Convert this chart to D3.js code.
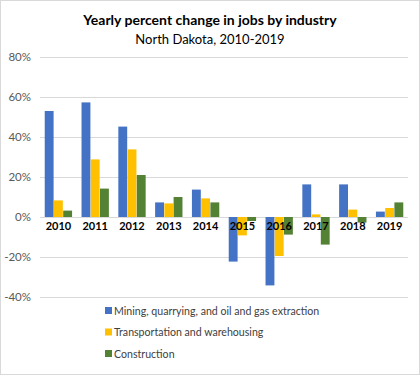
<!DOCTYPE html>
<html>
<head>
<meta charset="utf-8">
<script src="https://cdn.jsdelivr.net/npm/d3@7"></script>
<style>
  body { margin: 0; background: #fff; }
  svg { display: block; font-family: Lato, "Open Sans", sans-serif; }
</style>
</head>
<body>
<div id="chart"></div>
<script>
const years = ['2010', '2011', '2012', '2013', '2014', '2015', '2016', '2017', '2018', '2019'];
const seriesNames = ['Mining, quarrying, and oil and gas extraction', 'Transportation and warehousing', 'Construction'];
const mining = [53, 57.3, 45.2, 7.3, 13.7, -22.3, -34.2, 16.3, 16.3, 2.7];
const transport = [8.3, 28.8, 33.8, 6.8, 9.3, -9.2, -19.5, 1.3, 3.7, 4.5];
const construction = [3.2, 14.2, 21, 10, 7.3, -2, -8.8, -13.8, -2.8, 7.3];
const yTicks = [-40, -20, 0, 20, 40, 60, 80];
const colors = ['#4472C4', '#FFC000', '#548235'];

const width = 420, height = 375;
const svg = d3.select('#chart').append('svg').attr('width', width).attr('height', height);

svg.append('rect').attr('x', 0.5).attr('y', 0.5).attr('width', width - 1).attr('height', height - 1)
  .attr('fill', '#fff').attr('stroke', '#d9d9d9');

svg.append('text').attr('x', 210).attr('y', 25).attr('text-anchor', 'middle')
  .attr('font-size', 14).attr('font-weight', 'bold').attr('fill', '#000')
  .text('Yearly percent change in jobs by industry');
svg.append('text').attr('x', 210).attr('y', 44).attr('text-anchor', 'middle')
  .attr('font-size', 13).attr('fill', '#000')
  .text('North Dakota, 2010-2019');

const x = d3.scaleBand().domain(years).range([40, 408]).paddingInner(0.237).paddingOuter(0.1185);
const x1 = d3.scaleBand().domain(d3.range(3)).range([0, x.bandwidth()]).padding(0.04);
const y = d3.scaleLinear().domain([-40, 80]).range([297, 57]);

const grid = svg.append('g');
grid.selectAll('line').data(yTicks).join('line')
  .attr('x1', 40).attr('x2', 408)
  .attr('y1', d => Math.round(y(d)) + 0.5).attr('y2', d => Math.round(y(d)) + 0.5)
  .attr('stroke', '#d9d9d9').attr('stroke-width', 1);

const yAxis = d3.axisLeft(y).tickValues(yTicks).tickFormat(d => d + '%').tickSize(0).tickPadding(0);
svg.append('g').attr('transform', 'translate(31,0)').call(yAxis)
  .call(g => g.select('.domain').remove())
  .call(g => g.selectAll('text').attr('font-size', 11.5).attr('fill', '#595959')
    .attr('font-family', 'Lato, "Open Sans", sans-serif'));

const data = years.map((yr, i) => ({ year: yr, values: [mining[i], transport[i], construction[i]] }));

const groups = svg.append('g').selectAll('g').data(data).join('g')
  .attr('transform', d => `translate(${x(d.year)},0)`);
groups.selectAll('rect').data(d => d.values.map((v, k) => ({ v, k }))).join('rect')
  .attr('x', d => x1(d.k))
  .attr('width', x1.bandwidth())
  .attr('y', d => y(Math.max(0, d.v)))
  .attr('height', d => Math.abs(y(d.v) - y(0)))
  .attr('fill', d => colors[d.k]);

const xAxis = d3.axisBottom(x).tickSize(0).tickPadding(0);
svg.append('g').attr('transform', `translate(0,${y(0) + 5})`).call(xAxis)
  .call(g => g.select('.domain').remove())
  .call(g => g.selectAll('text').attr('font-size', 11).attr('font-weight', 'bold').attr('fill', '#000')
    .attr('font-family', 'Lato, "Open Sans", sans-serif'));

const legend = svg.append('g').selectAll('g').data(seriesNames).join('g')
  .attr('transform', (d, i) => `translate(105,${311 + i * 21.5})`);
legend.append('rect').attr('x', 0).attr('y', -4).attr('width', 7).attr('height', 7)
  .attr('fill', (d, i) => colors[i]);
legend.append('text').attr('x', 9).attr('y', 0).attr('dy', '0.35em')
  .attr('font-size', 10.6).attr('fill', '#404040').text(d => d);
</script>
</body>
</html>
